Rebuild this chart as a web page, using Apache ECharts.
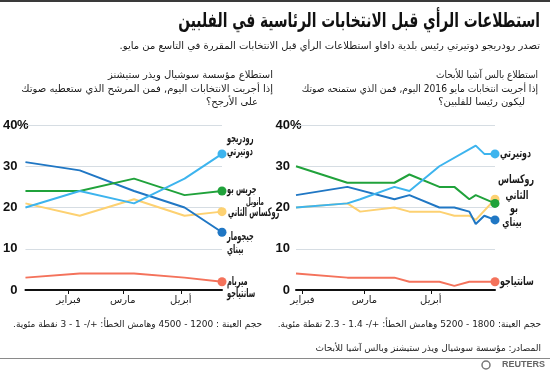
<!DOCTYPE html>
<html><head><meta charset="utf-8">
<script src="https://cdn.jsdelivr.net/npm/echarts@6/dist/echarts.min.js"></script>
<style>html,body{margin:0;padding:0;background:#fff}#c{width:550px;height:372px}</style>
</head><body><div id="c" dir="rtl"></div>
<script>
// ---- data ----
const monthTicks = [32, 61, 92];            // day-of-year of Feb 1, Mar 1, Apr 1 (2016)
const monthNames = ['فبراير', 'مارس', 'أبريل'];
const yTicks = [0, 10, 20, 30, 40];

// SWS (left panel)
const swsDays = [9, 38, 67, 94, 114];
const swsDuterte = [20, 24, 21, 27, 33];
const swsPoe = [24, 24, 27, 23, 24];
const swsRoxas = [21, 18, 22, 18, 19];
const swsBinay = [31, 29, 24, 20, 14];
const swsSantiago = [3, 4, 4, 3, 2];

// Pulse Asia (right panel)
const paDuterteDays = [29, 53, 59, 75, 82, 96, 113, 117, 122];
const paDuterte = [20, 21, 22, 25, 24, 30, 35, 33, 33];
const paPoeDays = [29, 53, 75, 82, 96, 103, 110, 113, 122];
const paPoe = [30, 26, 26, 28, 25, 25, 22, 23, 21];
const paRoxasDays = [29, 53, 59, 75, 82, 96, 103, 110, 113, 122];
const paRoxas = [20, 21, 19, 20, 19, 19, 18, 18, 17, 22];
const paBinayDays = [29, 53, 75, 82, 96, 103, 110, 113, 117, 122];
const paBinay = [23, 25, 22, 23, 20, 20, 19, 16, 18, 17];
const paSantiagoDays = [29, 53, 75, 82, 96, 103, 110, 122];
const paSantiago = [4, 3, 3, 2, 2, 1, 2, 2];

// ---- styles ----
const C = {duterte:'#3db4ee', poe:'#20a23b', roxas:'#fdd171', binay:'#2077c4', santiago:'#f4725b'};
const AR = "'DejaVu Sans', sans-serif";
const NUM = "'Liberation Sans', Arial, sans-serif";

function mk(xi, days, vals, color, z) {
  const data = days.map((d, i) => {
    const it = {value:[d, vals[i]]};
    if (i === days.length - 1) it.symbolSize = 9;
    return it;
  });
  return {type:'line', xAxisIndex:xi, yAxisIndex:xi, data, symbol:'circle', symbolSize:0,
    showAllSymbol:true, lineStyle:{color, width:2}, itemStyle:{color}, z,
    emphasis:{disabled:true}, silent:true};
}

function xAxis(gi, min, max) {
  return {type:'value', gridIndex:gi, min, max,
    axisLine:{show:true, lineStyle:{color:'#111', width:2}},
    axisTick:{show:true, customValues:monthTicks, length:4, lineStyle:{color:'#111', width:1}},
    axisLabel:{customValues:monthTicks, formatter:v => monthNames[monthTicks.indexOf(v)] || '',
      fontFamily:AR, fontSize:10, color:'#222', margin:5},
    splitLine:{show:false}};
}
function yAxis(gi, margin) {
  return {type:'value', gridIndex:gi, min:0, max:40, interval:10,
    axisLine:{show:false}, axisTick:{show:false},
    axisLabel:{margin, fontFamily:NUM, fontWeight:'bold', fontSize:13, color:'#111'},
    splitLine:{show:true, lineStyle:{color:'#d6dde3', width:1}}};
}

function txt(x, y, text, font, align, fill, sx) {
  return {type:'text', x, y, scaleX:sx || 1, silent:true,
    style:{text, font, align:align || 'right', verticalAlign:'middle', fill:fill || '#1a1a1a'}};
}

const staticG = [
  {type:'rect', shape:{x:0, y:0, width:550, height:2}, style:{fill:'#3a3a3a'}, silent:true},
  txt(540, 22, 'استطلاعات الرأي قبل الانتخابات الرئاسية في الفلبين', "bold 20px " + AR, 'right', '#111', 0.69),
  txt(540, 46, 'تصدر رودريجو دوتيرتي رئيس بلدية دافاو استطلاعات الرأي قبل الانتخابات المقررة في التاسع من مايو.', "10px " + AR),
  txt(273, 75, 'استطلاع مؤسسة سوشيال ويذر ستيشنز', "10px " + AR),
  txt(273, 89, 'إذا أجريت الانتخابات اليوم, فمن المرشح الذي ستعطيه صوتك', "10px " + AR),
  txt(258, 102, 'على الأرجح؟', "10px " + AR),
  txt(538, 75, 'استطلاع بالس آشيا للأبحاث', "10px " + AR, 'right', '#1a1a1a', 0.9),
  txt(538, 89, 'إذا أجريت انتخابات مايو 2016 اليوم, فمن الذي ستمنحه صوتك', "10px " + AR, 'right', '#1a1a1a', 0.915),
  txt(525, 102, 'ليكون رئيسا للفلبين؟', "10px " + AR),
  txt(17, 125, '%', "bold 13px " + NUM, 'left', '#111'),
  txt(290, 125, '%', "bold 13px " + NUM, 'left', '#111'),
  txt(262, 325, 'حجم العينة : 1200 - 4500 وهامش الخطأ: +/- 1 - 3 نقطة مئوية.', "9px " + AR),
  txt(541, 325, 'حجم العينة: 1800 - 5200 وهامش الخطأ: +/- 1.4 - 2.3 نقطة مئوية.', "9px " + AR),
  txt(541, 349, 'المصادر: مؤسسة سوشيال ويذر ستيشنز وبالس آشيا للأبحاث', "9px " + AR),
  {type:'rect', shape:{x:0, y:358, width:550, height:1}, style:{fill:'#8a8a8a'}, silent:true},
  {type:'circle', shape:{cx:486, cy:365, r:4}, style:{fill:'none', stroke:'#777', lineWidth:1.5}, silent:true},
  txt(545, 365, 'REUTERS', "bold 9px " + NUM, 'right', '#666')
];

const option = {
  animation:false,
  grid:[{left:25, right:328, top:125, bottom:82}, {left:296, right:55, top:125, bottom:82}],
  xAxis:[xAxis(0, 9, 114), xAxis(1, 29, 122)],
  yAxis:[yAxis(0, 8), yAxis(1, 6)],
  series:[
    mk(0, swsDays, swsSantiago, C.santiago, 2),
    mk(0, swsDays, swsRoxas, C.roxas, 3),
    mk(0, swsDays, swsBinay, C.binay, 4),
    mk(0, swsDays, swsPoe, C.poe, 5),
    mk(0, swsDays, swsDuterte, C.duterte, 6),
    mk(1, paSantiagoDays, paSantiago, C.santiago, 2),
    mk(1, paRoxasDays, paRoxas, C.roxas, 3),
    mk(1, paBinayDays, paBinay, C.binay, 4),
    mk(1, paPoeDays, paPoe, C.poe, 5),
    mk(1, paDuterteDays, paDuterte, C.duterte, 6)
  ],
  graphic:staticG
};
const chart = echarts.init(document.getElementById('c'), null, {renderer:'canvas'});
chart.setOption(option);

// end labels anchored at each series' last point (through the chart's own scales)
const LF = "bold 12px " + AR;
const endLabels = [
  // [grid, days, values, lines: [text, dx, dy, align, font]]
  [0, swsDays, swsDuterte, [['رودريجو', 5, -15, 'left'], ['دوتيرتي', 5, -2, 'left']]],
  [0, swsDays, swsPoe, [['جريس بو', 5, -1, 'left']]],
  [0, swsDays, swsRoxas, [['مانويل', 42, -9, 'right', "bold 10px " + AR], ['روكساس الثاني', 6, 1, 'left']]],
  [0, swsDays, swsBinay, [['جيجومار', 5, 5, 'left'], ['بيناي', 5, 18, 'left']]],
  [0, swsDays, swsSantiago, [['ميريام', 5, 0, 'left'], ['سانتياجو', 5, 12, 'left']]],
  [1, paDuterteDays, paDuterte, [['دوتيرتي', 5, 0, 'left']]],
  [1, paRoxasDays, paRoxas, [['روكساس', 21, -19, 'center'], ['الثاني', 22, -3, 'center']]],
  [1, paPoeDays, paPoe, [['بو', 19, 5, 'center']]],
  [1, paBinayDays, paBinay, [['بيناي', 17, 3, 'center']]],
  [1, paSantiagoDays, paSantiago, [['سانتياجو', 5, 0, 'left']]]
];
const labelG = [];
endLabels.forEach(([gi, days, vals, lines]) => {
  const n = days.length - 1;
  const p = chart.convertToPixel({gridIndex:gi}, [days[n], vals[n]]);
  const sx = gi === 0 ? 0.55 : 0.66;
  lines.forEach(([t, dx, dy, al, f]) => {
    labelG.push(txt(p[0] + dx, p[1] + dy, t, f || LF, al, '#1a1a1a', sx));
  });
});
chart.setOption({graphic: staticG.concat(labelG)});
</script></body></html>
